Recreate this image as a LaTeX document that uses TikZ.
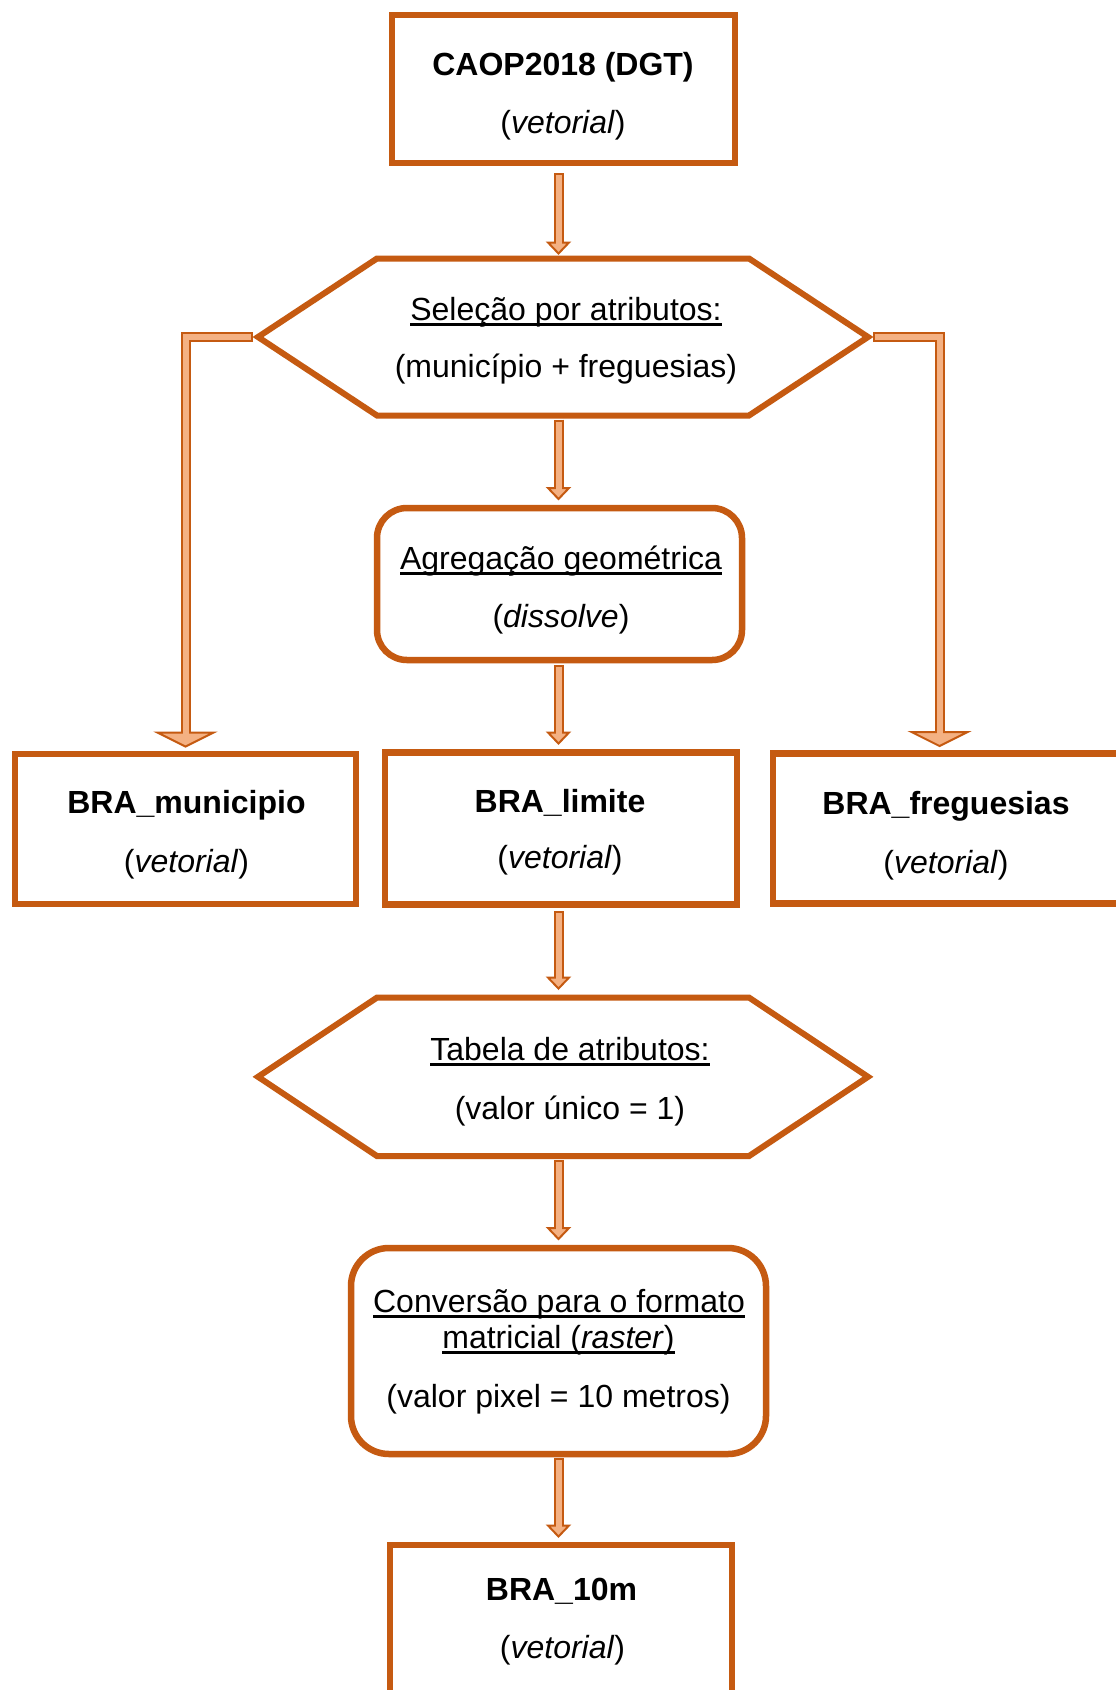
\documentclass[tikz,border=0pt]{standalone}
\usepackage{fontspec}
\setmainfont{Liberation Sans}
\usetikzlibrary{calc}
\definecolor{odark}{HTML}{C55A11}
\definecolor{olight}{HTML}{F4B183}
\newsavebox\ulsbox
\newcommand\myul[1]{\sbox\ulsbox{#1}\rlap{\rule[-6pt]{\wd\ulsbox}{2.6pt}}\usebox\ulsbox}
% #1 start coordinate, #2 tip coordinate, #3 head half width, #4 head length
\newcommand\flowarrow[4]{%
  \draw[line width=10pt, draw=odark] #1 -- ($#2+(0,-#4)$);
  \filldraw[fill=olight, draw=odark, line width=2pt, line join=miter] ($#2+(-#3,-#4)$) -- #2 -- ($#2+(#3,-#4)$) -- cycle;
  \draw[line width=6pt, draw=olight] ($#1+(0,2)$) -- ($#2+(0,-#4+1.5)$);
}
\newcommand\arrowheadtip[3]{%
  \filldraw[fill=olight, draw=odark, line width=2pt, line join=miter] ($#1+(-#2,-#3)$) -- #1 -- ($#1+(#2,-#3)$) -- cycle;
}
\begin{document}
\begin{tikzpicture}[x=1pt,y=-1pt,
  box/.style={draw=odark, line width=6.5pt, fill=white, inner sep=0pt, outer sep=0pt},
  hexframe/.style={inner sep=0pt, outer sep=0pt},
  hexline/.style={draw=odark, line width=6pt, line join=miter, fill=white},
  txt/.style={anchor=base, inner sep=0pt, outer sep=0pt, font=\fontsize{32}{38}\selectfont},
]
\useasboundingbox (0,0) rectangle (1116,1690);
\fill[white] (0,0) rectangle (1116,1690);
\clip (0,0) rectangle (1116,1690);

% boxes
\node[box, minimum width=343pt, minimum height=148pt] (caop) at (563.5,89) {};
\node[hexframe, minimum width=610pt, minimum height=157pt] (sel) at (563,337) {};
\draw[hexline] (sel.west) -- ($(sel.north west)+(119,0)$) -- ($(sel.north east)+(-119,0)$) -- (sel.east) -- ($(sel.south east)+(-119,0)$) -- ($(sel.south west)+(119,0)$) -- cycle;
\node[box, rounded corners=30pt, minimum width=365pt, minimum height=152pt] (agr) at (559.5,584) {};
\node[box, minimum width=341pt, minimum height=150pt] (mun) at (185.5,829) {};
\node[box, minimum width=352pt, minimum height=152pt] (lim) at (561,828.5) {};
\node[box, minimum width=352pt, minimum height=150pt] (freg) at (949,828.5) {};
\node[hexframe, minimum width=610pt, minimum height=158.5pt] (tab) at (563,1076.8) {};
\draw[hexline] (tab.west) -- ($(tab.north west)+(119,0)$) -- ($(tab.north east)+(-119,0)$) -- (tab.east) -- ($(tab.south east)+(-119,0)$) -- ($(tab.south west)+(119,0)$) -- cycle;
\node[box, rounded corners=38pt, minimum width=415pt, minimum height=206pt] (conv) at (558.5,1351) {};
\node[box, minimum width=342pt, minimum height=175pt] (b10) at (561,1632.5) {};

% texts
\node[txt] (caopA) at (563,75) {\bfseries CAOP2018 (DGT)};
\node[txt] (caopB) at (563,133) {(\textit{vetorial})};
\node[txt] (selA) at (566,320) {\myul{Seleção por atributos:}};
\node[txt] (selB) at (566,377) {(município + freguesias)};
\node[txt] (agrA) at (561,569) {\myul{Agregação geométrica}};
\node[txt] (agrB) at (561,627) {(\textit{dissolve})};
\node[txt] (munA) at (186.5,813) {\bfseries BRA\_municipio};
\node[txt] (munB) at (186.5,872) {(\textit{vetorial})};
\node[txt] (limA) at (560,812) {\bfseries BRA\_limite};
\node[txt] (limB) at (560,868) {(\textit{vetorial})};
\node[txt] (fregA) at (946,814) {\bfseries BRA\_freguesias};
\node[txt] (fregB) at (946,873) {(\textit{vetorial})};
\node[txt] (tabA) at (570,1060) {\myul{Tabela de atributos:}};
\node[txt] (tabB) at (570,1119) {(valor único = 1)};
\node[txt] (convA) at (559,1312) {\myul{Conversão para o formato}};
\node[txt] (convB) at (558.5,1348) {\myul{matricial (\textit{raster})}};
\node[txt] (convC) at (558.5,1407) {(valor pixel = 10 metros)};
\node[txt] (b10A) at (561.5,1600) {\bfseries BRA\_10m};
\node[txt] (b10B) at (562.5,1658) {(\textit{vetorial})};

% straight arrows
\coordinate (ax) at (558.5,0);
\coordinate (a1s) at ($(caop.south -| ax)+(0,10)$);
\coordinate (a1t) at ($(sel.north -| ax)+(0,-5)$);
\coordinate (a2s) at ($(sel.south -| ax)+(0,4)$);
\coordinate (a2t) at ($(agr.north -| ax)+(0,-9)$);
\coordinate (a3s) at ($(agr.south -| ax)+(0,5)$);
\coordinate (a3t) at ($(lim.north -| ax)+(0,-9)$);
\coordinate (a4s) at ($(lim.south -| ax)+(0,6.5)$);
\coordinate (a4t) at ($(tab.north -| ax)+(0,-9)$);
\coordinate (a5s) at ($(tab.south -| ax)+(0,4)$);
\coordinate (a5t) at ($(conv.north -| ax)+(0,-9)$);
\coordinate (a6s) at ($(conv.south -| ax)+(0,4)$);
\coordinate (a6t) at ($(b10.north -| ax)+(0,-8.5)$);
\flowarrow{(a1s)}{(a1t)}{10.5}{11}
\flowarrow{(a2s)}{(a2t)}{10.5}{11}
\flowarrow{(a3s)}{(a3t)}{10.5}{11}
\flowarrow{(a4s)}{(a4t)}{10.5}{11}
\flowarrow{(a5s)}{(a5t)}{10.5}{11}
\flowarrow{(a6s)}{(a6t)}{10.5}{11}

% side connectors
\coordinate (lS) at ($(sel.west)+(-5,0)$);
\coordinate (lT) at ($(mun.north)+(0,-7.5)$);
\draw[line width=10pt, draw=odark, line join=miter] (lS) -- (lS -| lT) -- ($(lT)+(0,-14)$);
\arrowheadtip{(lT)}{28}{14}
\draw[line width=6pt, draw=olight, line join=miter] ($(lS)+(-2,0)$) -- (lS -| lT) -- ($(lT)+(0,-12.5)$);

\coordinate (fx) at (939.5,0);
\coordinate (rS) at ($(sel.east)+(5,0)$);
\coordinate (rT) at ($(fx |- freg.north)+(0,-7.5)$);
\draw[line width=10pt, draw=odark, line join=miter] (rS) -- (rS -| rT) -- ($(rT)+(0,-14)$);
\arrowheadtip{(rT)}{28}{14}
\draw[line width=6pt, draw=olight, line join=miter] ($(rS)+(2,0)$) -- (rS -| rT) -- ($(rT)+(0,-12.5)$);
\end{tikzpicture}
\end{document}
